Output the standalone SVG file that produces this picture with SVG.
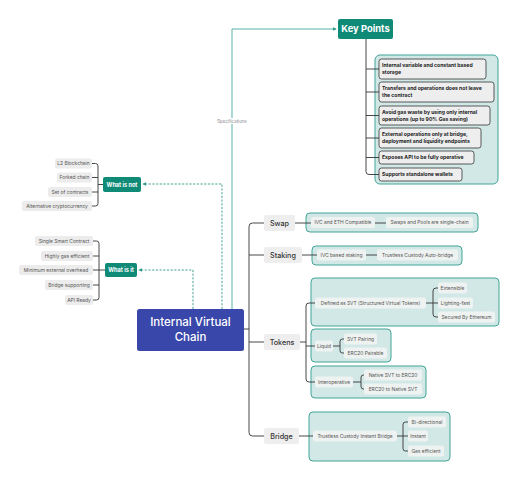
<svg xmlns="http://www.w3.org/2000/svg" width="523" height="480" viewBox="0 0 523 480">
<style>
text{font-family:Inter,"Noto Sans","Liberation Sans",sans-serif}
.it{fill:#ececec}
.itp{fill:#eef2f1}
.t{font-size:4.9px;fill:#555;text-anchor:middle}
.kp{fill:#eeeeee;stroke:#333;stroke-width:0.8}
.kt{font-size:5.1px;font-weight:700;fill:#222}
.g{fill:#0f8a77}
.gt{font-size:5.6px;font-weight:700;fill:#fff;text-anchor:middle}
.nd{fill:#eeeeee}
.nt{font-size:7.2px;font-weight:500;fill:#333;text-anchor:middle}
.pn{fill:#d1e8e6;stroke:#41a597;stroke-width:1}
.ln{fill:none;stroke:#333;stroke-width:0.9}
.tl{fill:none;stroke:#55b3a7;stroke-width:1}
.ds{fill:none;stroke:#2f9888;stroke-width:0.9;stroke-dasharray:2.2 1.5}
</style>
<defs>
<marker id="ah" viewBox="0 0 6 6" refX="5" refY="3" markerWidth="4" markerHeight="4" orient="auto">
<path d="M0,0 L6,3 L0,6 z" fill="#2f9888"/>
</marker>
</defs>

<g id="key-points">
<rect class="g" x="338" y="19" width="55" height="20" rx="2"/>
<text x="365.5" y="32.3" style="font-size:9.4px;font-weight:700;fill:#fff;text-anchor:middle">Key Points</text>
</g>
<g id="key-points-panel">
<rect class="pn" x="375" y="55" width="123" height="129" rx="5"/>
<rect class="kp" x="379" y="59" width="107" height="20" rx="2.5"/>
<text class="kt" x="382" y="67"><tspan>Internal variable and constant based</tspan><tspan x="382" y="74">storage</tspan></text>
<rect class="kp" x="379" y="82" width="115" height="20" rx="2.5"/>
<text class="kt" x="382" y="90"><tspan>Transfers and operations does not leave</tspan><tspan x="382" y="97">the contract</tspan></text>
<rect class="kp" x="379" y="106" width="111" height="19" rx="2.5"/>
<text class="kt" x="382" y="113.5"><tspan>Avoid gas waste by using only internal</tspan><tspan x="382" y="120.5">operations (up to 90% Gas saving)</tspan></text>
<rect class="kp" x="379" y="128" width="102" height="20" rx="2.5"/>
<text class="kt" x="382" y="136"><tspan>External operations only at bridge,</tspan><tspan x="382" y="143">deployment and liquidity endpoints</tspan></text>
<rect class="kp" x="379" y="151" width="95" height="13" rx="2.5"/>
<text class="kt" x="382" y="159.3">Exposes API to be fully operative</text>
<rect class="kp" x="379" y="168" width="83" height="13" rx="2.5"/>
<text class="kt" x="382" y="176.3">Supports standalone wallets</text>
</g>

<g id="what-is-not">
<rect class="g" x="103" y="177" width="38" height="15" rx="2"/>
<text class="gt" x="122" y="186.5">What is not</text>
<rect class="it" x="55" y="158.5" width="37" height="10" rx="2"/>
<text class="t" x="73.5" y="165.3">L2 Blockchain</text>
<rect class="it" x="57" y="172.5" width="35" height="10" rx="2"/>
<text class="t" x="74.5" y="179.3">Forked chain</text>
<rect class="it" x="48" y="187" width="44" height="10" rx="2"/>
<text class="t" x="70" y="193.8">Set of contracts</text>
<rect class="it" x="22" y="201" width="70" height="10" rx="2"/>
<text class="t" x="57" y="207.8">Alternative cryptocurrency</text>
</g>

<g id="what-is-it">
<rect class="g" x="105" y="263" width="32" height="14" rx="2"/>
<text class="gt" x="121" y="272">What is it</text>
<rect class="it" x="35" y="236" width="58" height="10" rx="2"/>
<text class="t" x="64" y="242.8">Single Smart Contract</text>
<rect class="it" x="41" y="251" width="52" height="10" rx="2"/>
<text class="t" x="67" y="257.8">Highly gas efficient</text>
<rect class="it" x="19" y="265" width="74" height="10" rx="2"/>
<text class="t" x="56" y="271.8">Minimum external overhead</text>
<rect class="it" x="45" y="280" width="48" height="10" rx="2"/>
<text class="t" x="69" y="286.8">Bridge supporting</text>
<rect class="it" x="65" y="295" width="28" height="10" rx="2"/>
<text class="t" x="79" y="301.8">API Ready</text>
</g>

<g id="center">
<rect x="137" y="309" width="107" height="42" rx="2.5" fill="#3a47aa"/>
<text x="190.5" y="326" style="font-size:11.5px;font-weight:500;fill:#fff;text-anchor:middle">Internal Virtual</text>
<text x="190.5" y="341" style="font-size:11.5px;font-weight:500;fill:#fff;text-anchor:middle">Chain</text>
</g>

<g id="swap">
<rect class="nd" x="264" y="215" width="31" height="16" rx="2"/>
<text class="nt" x="279.5" y="225.6">Swap</text>
<rect class="pn" x="306" y="213" width="172" height="19" rx="4"/>
<rect class="itp" x="311" y="217" width="64" height="11" rx="2"/>
<text class="t" x="343" y="224.3">IVC and ETH Compatible</text>
<rect class="itp" x="386" y="217" width="87" height="11" rx="2"/>
<text class="t" x="429.5" y="224.3">Swaps and Pools are single-chain</text>
</g>

<g id="staking">
<rect class="nd" x="264" y="247" width="38" height="16" rx="2"/>
<text class="nt" x="283" y="257.6">Staking</text>
<rect class="pn" x="312" y="246" width="150" height="19" rx="4"/>
<rect class="itp" x="317" y="249.5" width="49" height="11" rx="2"/>
<text class="t" x="341.5" y="256.8">IVC based staking</text>
<rect class="itp" x="377" y="249.5" width="81" height="11" rx="2"/>
<text class="t" x="417.5" y="256.8">Trustless Custody Auto-bridge</text>
</g>

<g id="tokens">
<rect class="nd" x="264" y="334" width="36" height="16" rx="2"/>
<text class="nt" x="282" y="344.6">Tokens</text>
<rect class="pn" x="311" y="278" width="188" height="48" rx="4"/>
<rect class="itp" x="315" y="297.5" width="111" height="11" rx="2"/>
<text class="t" x="370.5" y="304.8">Defined as SVT (Structured Virtual Tokens)</text>
<rect class="itp" x="438" y="282.5" width="29" height="11" rx="2"/>
<text class="t" x="452.5" y="289.8">Extensible</text>
<rect class="itp" x="438" y="297.5" width="35" height="11" rx="2"/>
<text class="t" x="455.5" y="304.8">Lighting-fast</text>
<rect class="itp" x="438" y="311.5" width="57" height="11" rx="2"/>
<text class="t" x="466.5" y="318.8">Secured By Ethereum</text>

<rect class="pn" x="311" y="329" width="80" height="33" rx="4"/>
<rect class="itp" x="315" y="340.5" width="18" height="11" rx="2"/>
<text class="t" x="324" y="347.8">Liquid</text>
<rect class="itp" x="344" y="333.5" width="33" height="11" rx="2"/>
<text class="t" x="360.5" y="340.8">SVT Pairing</text>
<rect class="itp" x="344" y="347.5" width="43" height="11" rx="2"/>
<text class="t" x="365.5" y="354.8">ERC20 Pairable</text>

<rect class="pn" x="311" y="366" width="115" height="32" rx="4"/>
<rect class="itp" x="315" y="376.5" width="38" height="11" rx="2"/>
<text class="t" x="334" y="383.8">Interoperative</text>
<rect class="itp" x="364" y="369.5" width="58" height="11" rx="2"/>
<text class="t" x="393" y="376.8">Native SVT to ERC20</text>
<rect class="itp" x="364" y="383.5" width="58" height="11" rx="2"/>
<text class="t" x="393" y="390.8">ERC20 to Native SVT</text>
</g>

<g id="bridge">
<rect class="nd" x="264" y="428" width="35" height="16" rx="2"/>
<text class="nt" x="281.5" y="438.6">Bridge</text>
<rect class="pn" x="309" y="412" width="141" height="49" rx="4"/>
<rect class="itp" x="313" y="430.5" width="84" height="11" rx="2"/>
<text class="t" x="355" y="437.8">Trustless Custody Instant Bridge</text>
<rect class="itp" x="408" y="416.5" width="38" height="11" rx="2"/>
<text class="t" x="427" y="423.8">Bi-directional</text>
<rect class="itp" x="408" y="430.5" width="20" height="11" rx="2"/>
<text class="t" x="418" y="437.8">Instant</text>
<rect class="itp" x="408" y="445.5" width="36" height="11" rx="2"/>
<text class="t" x="426" y="452.8">Gas efficient</text>
</g>

<g id="connectors">
<path class="tl" d="M232,309 V29 H336" marker-end="url(#ah)"/>
<rect x="215" y="118" width="34" height="6" fill="#fff"/>
<text x="232" y="122.6" style="font-size:4.4px;fill:#888;text-anchor:middle">Specifications</text>
<path class="ds" d="M222,309 V184 H143" marker-end="url(#ah)"/>
<path class="ds" d="M193,309 V270 H139" marker-end="url(#ah)"/>
<path class="ln" d="M92,163.5 H95.5 Q98,163.5 98,166 V203.5 Q98,206 95.5,206 H92 M92,177.5 H98 M92,192 H98 M98,184.5 H103"/>
<path class="ln" d="M93,241 H96.5 Q99,241 99,243.5 V297.5 Q99,300 96.5,300 H93 M93,256 H99 M93,270 H105 M93,285 H99"/>
<path class="ln" d="M366,39 V171.5 Q366,174.5 369,174.5 H379 M366,69 H379 M366,92 H379 M366,115.5 H379 M366,138 H379 M366,157.5 H379"/>
<path class="ln" d="M244,329 H249 M264,223 H252.5 Q249,223 249,226.5 V432.5 Q249,436 252.5,436 H264 M249,255 H264 M249,342 H264"/>
<path class="ln" d="M295,223 H311 M375,223 H386 M302,255 H317 M366,255 H377"/>
<path class="ln" d="M300,342 H306 M315,303 H309 Q306,303 306,306 V379 Q306,382 309,382 H315 M306,346 H315"/>
<path class="ln" d="M426,303 H438 M438,288 H436 Q433,288 433,291 V314 Q433,317 436,317 H438"/>
<path class="ln" d="M333,346 H340 M344,339 H342.5 Q340,339 340,341.5 V350.5 Q340,353 342.5,353 H344"/>
<path class="ln" d="M353,382 H361 M364,375 H363.5 Q361,375 361,377.5 V386.5 Q361,389 363.5,389 H364"/>
<path class="ln" d="M299,436 H313 M397,436 H408 M408,422 H405.5 Q403,422 403,424.5 V448.5 Q403,451 405.5,451 H408"/>
</g>
</svg>
